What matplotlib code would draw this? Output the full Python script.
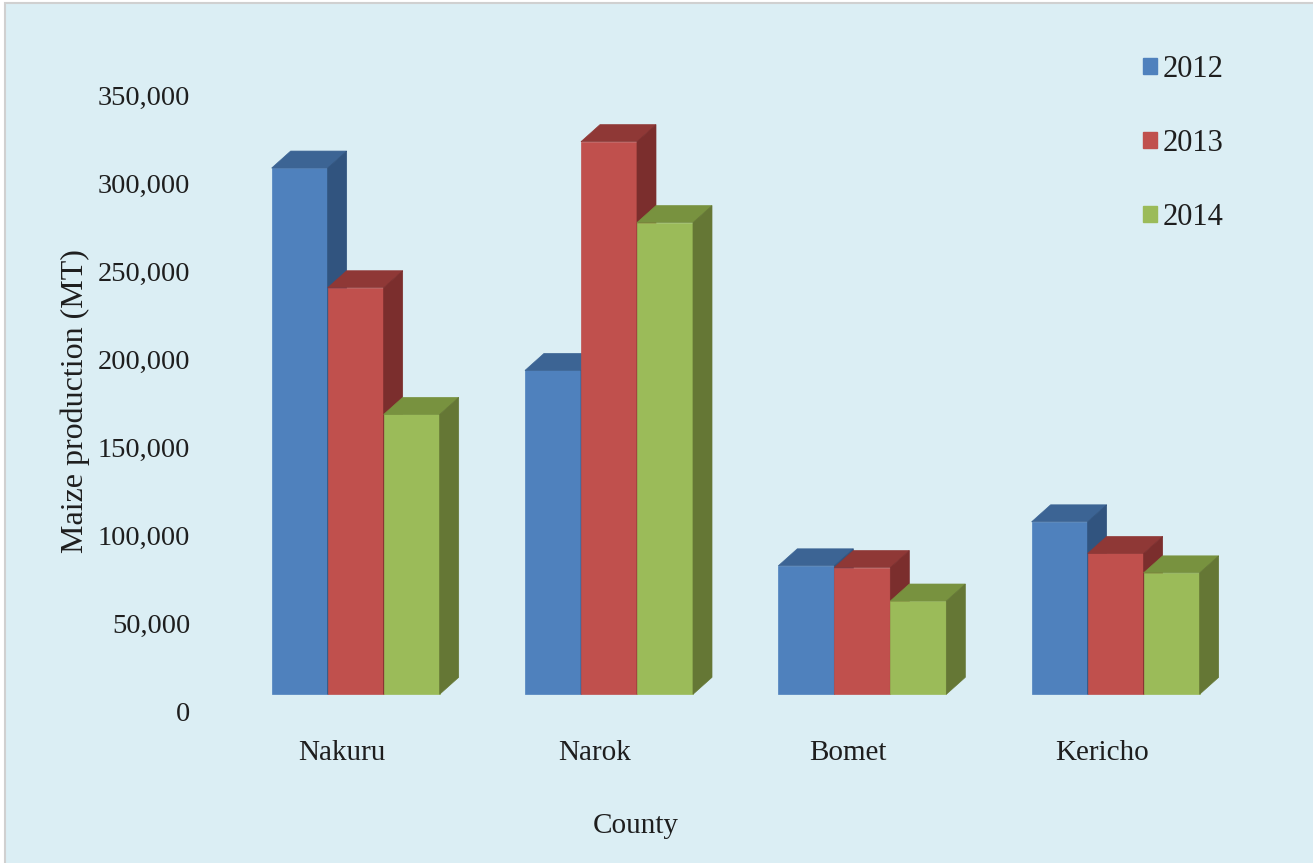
import numpy as np
import matplotlib
matplotlib.use('Agg')
import matplotlib.pyplot as plt
from matplotlib.patches import Polygon, Rectangle, Patch
from matplotlib.transforms import ScaledTranslation
from matplotlib.ticker import FuncFormatter

# Data
counties = ['Nakuru', 'Narok', 'Bomet', 'Kericho']
years = ['2012', '2013', '2014']
prod_2012 = [299000, 184000, 73000, 98000]
prod_2013 = [231000, 314000, 72000, 80000]
prod_2014 = [159000, 268000, 53000, 69000]
series = [prod_2012, prod_2013, prod_2014]

# front, top, side colours for each year
front_colors = ['#4F81BD', '#C0504D', '#9BBB59']
top_colors = ['#3C6494', '#8F3836', '#78923F']
side_colors = ['#31547F', '#7B2E2D', '#657735']
bg = '#DBEEF4'

W, H, DPI = 1313, 863, 100
fig = plt.figure(figsize=(W / DPI, H / DPI), dpi=DPI)
fig.patch.set_facecolor('white')
fig.patches.append(Rectangle((5 / W, -0.1), 1.1, 1.1 - 3 / H, transform=fig.transFigure,
                             facecolor=bg, edgecolor='#D0D0D0', linewidth=1.5, zorder=-10))

# axes placed in pixels
ax_left, ax_right = 229.0, 1242.3
ax_top, ax_bottom = 78.3, 694.3
ax = fig.add_axes([ax_left / W, 1 - ax_bottom / H, (ax_right - ax_left) / W, (ax_bottom - ax_top) / H])
ax.set_facecolor('none')
ymax = 350000
ax.set_xlim(-0.5, 3.5)
ax.set_ylim(0, ymax)

bar_w = 56 / 253.3
depth_px = (19, 17)
px_x = (ax_right - ax_left) / 4.0
px_y = (ax_bottom - ax_top) / ymax
ddx = depth_px[0] / px_x
ddy = depth_px[1] / px_y

x = np.arange(len(counties))
for i, vals in enumerate(series):
    xs = x + (i - 1) * bar_w
    ax.bar(xs, vals, width=bar_w, color=front_colors[i], edgecolor=front_colors[i],
           linewidth=0.5, zorder=3 + 3 * i, clip_on=False)
    for xc, v in zip(xs, vals):
        x0, x1 = xc - bar_w / 2, xc + bar_w / 2
        top = Polygon([(x0, v), (x1, v), (x1 + ddx, v + ddy), (x0 + ddx, v + ddy)],
                      closed=True, facecolor=top_colors[i], edgecolor=top_colors[i],
                      linewidth=0.5, zorder=3 + 3 * i + 1, clip_on=False)
        side = Polygon([(x1, 0), (x1 + ddx, ddy), (x1 + ddx, v + ddy), (x1, v)],
                       closed=True, facecolor=side_colors[i], edgecolor=side_colors[i],
                       linewidth=0.5, zorder=3 + 3 * i + 1, clip_on=False)
        ax.add_patch(top)
        ax.add_patch(side)

for s in ax.spines.values():
    s.set_visible(False)

font = 'Liberation Serif'
txt_color = '#1E1E1E'
ax.set_yticks(np.arange(0, ymax + 1, 50000))
ax.yaxis.set_major_formatter(FuncFormatter(lambda v, p: f'{int(v):,}'))
ax.tick_params(axis='y', length=0, pad=28, labelsize=20.5)
ax.set_xticks(x)
ax.set_xticklabels(counties)
ax.tick_params(axis='x', length=0, pad=33, labelsize=21)
for lab in ax.get_yticklabels() + ax.get_xticklabels():
    lab.set_fontfamily(font)
    lab.set_color(txt_color)
for lab in ax.get_yticklabels():
    lab.set_transform(lab.get_transform() + ScaledTranslation(0, -17 / DPI, fig.dpi_scale_trans))
for lab in ax.get_xticklabels():
    lab.set_transform(lab.get_transform() + ScaledTranslation(-14 / DPI, 0, fig.dpi_scale_trans))

ax.set_ylabel('Maize production (MT)', fontsize=23, family=font, color=txt_color, va='center')
ax.yaxis.set_label_coords((75 - ax_left) / (ax_right - ax_left), (ax_bottom - 401) / (ax_bottom - ax_top))
ax.set_xlabel('County', fontsize=21, family=font, color=txt_color, va='baseline')
ax.xaxis.set_label_coords((636 - ax_left) / (ax_right - ax_left), (ax_bottom - 833) / (ax_bottom - ax_top))

handles = [Patch(facecolor=c, edgecolor=c) for c in front_colors]
ax.legend(handles, years, loc='upper left', bbox_to_anchor=(1143 / W, 1 - 55 / H),
          bbox_transform=fig.transFigure, frameon=False, borderpad=0, borderaxespad=0,
          handlelength=0.45, handleheight=0.45, handletextpad=0.2, labelspacing=1.47,
          prop={'family': font, 'size': 22})
for t in ax.get_legend().get_texts():
    t.set_color(txt_color)

plt.savefig('out.png', dpi=DPI, facecolor=fig.get_facecolor())
